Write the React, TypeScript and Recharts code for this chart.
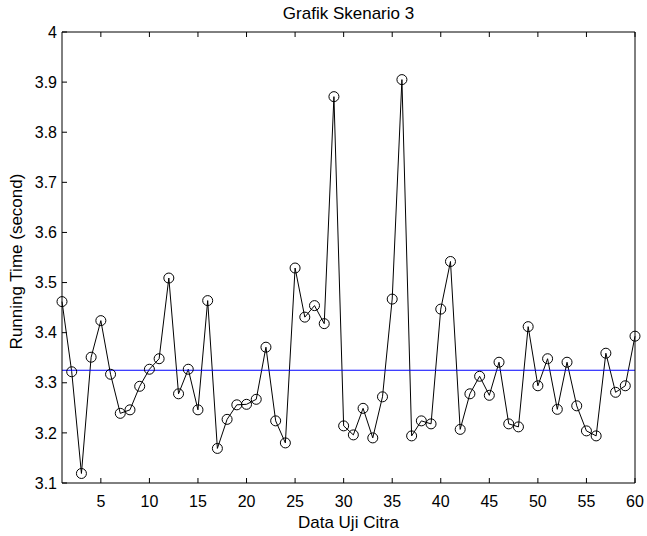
import React from 'react';
import { LineChart, Line, XAxis, YAxis, ReferenceLine, Label } from 'recharts';

// running time per test image (data uji citra 1..60)
const runningTime = [
  3.462, 3.322, 3.119, 3.351, 3.424, 3.317, 3.239, 3.246, 3.293, 3.327,
  3.348, 3.509, 3.278, 3.327, 3.246, 3.464, 3.169, 3.227, 3.256, 3.257,
  3.267, 3.371, 3.224, 3.18, 3.529, 3.431, 3.454, 3.418, 3.871, 3.214,
  3.196, 3.249, 3.19, 3.272, 3.467, 3.905, 3.194, 3.224, 3.218, 3.447,
  3.542, 3.207, 3.278, 3.313, 3.275, 3.341, 3.218, 3.212, 3.412, 3.294,
  3.348, 3.247, 3.341, 3.254, 3.204, 3.194, 3.359, 3.281, 3.294, 3.393,
];
const meanTime = 3.325;
const xTicks = [5, 10, 15, 20, 25, 30, 35, 40, 45, 50, 55, 60];
const yTicks = [3.1, 3.2, 3.3, 3.4, 3.5, 3.6, 3.7, 3.8, 3.9, 4];

const data = runningTime.map((v, i) => ({ idx: i + 1, time: v }));

const FONT = '"Liberation Sans", Arial, sans-serif';
const tickStyle = { fill: '#000', fontSize: 16, fontFamily: FONT };
const blank = () => '';

const App: React.FC = () => {
  return (
    <div style={{ position: 'absolute', left: 0, top: 0, width: 647, height: 536, background: '#fff' }}>
      <LineChart width={647} height={536} data={data} margin={{ top: 0, right: 0, bottom: 0, left: 0 }}>
        <XAxis
          dataKey="idx"
          type="number"
          domain={[1, 60]}
          ticks={xTicks}
          height={53}
          tickSize={-5}
          tickMargin={18}
          tick={tickStyle}
          axisLine={{ stroke: '#000' }}
          tickLine={{ stroke: '#000' }}
          interval={0}
        >
          <Label
            content={({ viewBox }: any) => (
              <text x={viewBox.x + viewBox.width / 2} y={528} textAnchor="middle" fontSize={17} fontFamily={FONT} fill="#000">
                Data Uji Citra
              </text>
            )}
          />
        </XAxis>
        <XAxis
          xAxisId="top"
          orientation="top"
          dataKey="idx"
          type="number"
          domain={[1, 60]}
          ticks={xTicks}
          height={32}
          tickSize={-5}
          tickFormatter={blank}
          axisLine={{ stroke: '#000' }}
          tickLine={{ stroke: '#000' }}
          interval={0}
        >
          <Label
            content={({ viewBox }: any) => (
              <text x={viewBox.x + viewBox.width / 2} y={18.5} textAnchor="middle" fontSize={17} fontFamily={FONT} fill="#000">
                Grafik Skenario 3
              </text>
            )}
          />
        </XAxis>
        <YAxis
          type="number"
          domain={[3.1, 4]}
          ticks={yTicks}
          width={62}
          tickSize={-5}
          tickMargin={10}
          tick={tickStyle}
          tickFormatter={(v: number) => String(Number(v.toFixed(1)))}
          axisLine={{ stroke: '#000' }}
          tickLine={{ stroke: '#000' }}
          interval={0}
        >
          <Label
            content={({ viewBox }: any) => {
              const cx = 22;
              const cy = viewBox.y + viewBox.height / 2 + 4;
              return (
                <text x={cx} y={cy} textAnchor="middle" transform={`rotate(-90, ${cx}, ${cy})`} fontSize={17} fontFamily={FONT} fill="#000">
                  Running Time (second)
                </text>
              );
            }}
          />
        </YAxis>
        <YAxis
          yAxisId="right"
          orientation="right"
          type="number"
          domain={[3.1, 4]}
          ticks={yTicks}
          width={12}
          tickSize={-5}
          tickFormatter={blank}
          axisLine={{ stroke: '#000' }}
          tickLine={{ stroke: '#000' }}
          interval={0}
        />
        <Line
          dataKey="time"
          stroke="#000"
          strokeWidth={1}
          dot={{ r: 5, fill: 'none', stroke: '#000', strokeWidth: 1 }}
          isAnimationActive={false}
        />
        <ReferenceLine y={meanTime} stroke="#0000ff" strokeWidth={1} />
      </LineChart>
    </div>
  );
};

export default App;
